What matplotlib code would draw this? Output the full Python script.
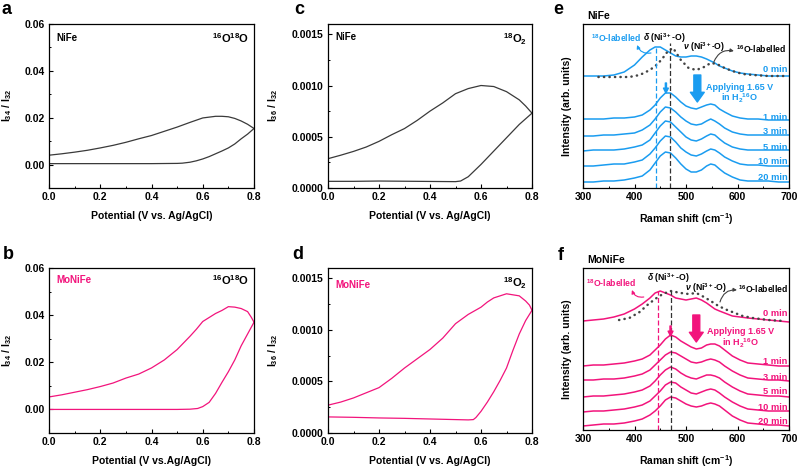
import matplotlib
matplotlib.use("Agg")
import matplotlib.pyplot as plt
from matplotlib.ticker import MultipleLocator, FormatStrFormatter

plt.rcParams['font.family'] = ['Liberation Sans', 'DejaVu Sans']
plt.rcParams['font.weight'] = 'bold'
plt.rcParams['axes.labelweight'] = 'bold'
plt.rcParams['mathtext.fontset'] = 'custom'
plt.rcParams['mathtext.rm'] = 'Liberation Sans:bold'
plt.rcParams['mathtext.bf'] = 'Liberation Sans:bold'
plt.rcParams['mathtext.it'] = 'Liberation Sans:italic:bold'
plt.rcParams['mathtext.sf'] = 'Liberation Sans:bold'

BLUE = '#1a9cf0'
PINK = '#f2147c'
GRAY = '#3a3a3a'

# ---- DEMS data (potential V vs Ag/AgCl) ----
a_fwd_x = [0.0, 0.1, 0.2, 0.3, 0.4, 0.5, 0.52, 0.55, 0.575, 0.6, 0.625, 0.65, 0.675, 0.7, 0.725, 0.75, 0.775, 0.8]
a_fwd_y = [0.0004, 0.0004, 0.0004, 0.0004, 0.0004, 0.0005, 0.0006, 0.001, 0.0016, 0.0024, 0.0034, 0.0046, 0.0058, 0.0071, 0.0088, 0.011, 0.013, 0.0154]
a_rev_x = [0.8, 0.775, 0.75, 0.725, 0.7, 0.675, 0.65, 0.6, 0.55, 0.5, 0.45, 0.4, 0.35, 0.3, 0.25, 0.2, 0.15, 0.1, 0.05, 0.0]
a_rev_y = [0.0154, 0.0172, 0.0186, 0.0197, 0.0204, 0.0206, 0.0206, 0.0199, 0.018, 0.016, 0.0142, 0.0124, 0.011, 0.0095, 0.0082, 0.0071, 0.0061, 0.0053, 0.0046, 0.004]

b_fwd_x = [0.0, 0.1, 0.2, 0.3, 0.4, 0.5, 0.55, 0.58, 0.6, 0.625, 0.65, 0.675, 0.7, 0.725, 0.75, 0.775, 0.8]
b_fwd_y = [0.0, 0.0, 0.0, 0.0, 0.0, 0.0, 0.0001, 0.0004, 0.0012, 0.003, 0.0068, 0.0115, 0.016, 0.021, 0.027, 0.032, 0.037]
b_rev_x = [0.8, 0.79, 0.775, 0.75, 0.725, 0.7, 0.675, 0.65, 0.625, 0.6, 0.575, 0.55, 0.5, 0.45, 0.4, 0.35, 0.3, 0.25, 0.2, 0.15, 0.1, 0.05, 0.0]
b_rev_y = [0.037, 0.039, 0.0415, 0.0428, 0.0434, 0.0436, 0.042, 0.0407, 0.039, 0.0373, 0.034, 0.031, 0.0254, 0.021, 0.0176, 0.015, 0.0133, 0.0112, 0.0097, 0.0084, 0.0073, 0.0062, 0.0053]

c_fwd_x = [0.0, 0.1, 0.2, 0.3, 0.4, 0.5, 0.52, 0.55, 0.6, 0.65, 0.7, 0.75, 0.8]
c_fwd_y = [0.000065, 0.000065, 0.000068, 0.000066, 0.000064, 0.000062, 0.000068, 0.00011, 0.00023, 0.00036, 0.00049, 0.00062, 0.00073]
c_rev_x = [0.8, 0.775, 0.75, 0.7, 0.65, 0.6, 0.55, 0.5, 0.45, 0.4, 0.35, 0.3, 0.25, 0.2, 0.15, 0.1, 0.05, 0.0]
c_rev_y = [0.00073, 0.0008, 0.00086, 0.00094, 0.00099, 0.001, 0.00097, 0.00092, 0.00083, 0.00075, 0.00066, 0.00058, 0.00052, 0.000455, 0.0004, 0.000357, 0.00032, 0.000286]

d_fwd_x = [0.0, 0.1, 0.2, 0.3, 0.4, 0.5, 0.55, 0.57, 0.58, 0.6, 0.625, 0.65, 0.675, 0.7, 0.725, 0.75, 0.775, 0.8]
d_fwd_y = [0.000156, 0.000152, 0.000146, 0.000142, 0.000136, 0.00013, 0.000127, 0.00013, 0.00015, 0.00021, 0.0003, 0.0004, 0.00051, 0.00063, 0.0008, 0.00096, 0.00109, 0.00119]
d_rev_x = [0.8, 0.79, 0.775, 0.75, 0.725, 0.7, 0.675, 0.65, 0.625, 0.6, 0.55, 0.5, 0.45, 0.4, 0.35, 0.3, 0.25, 0.2, 0.15, 0.1, 0.05, 0.0]
d_rev_y = [0.00119, 0.00124, 0.00128, 0.00133, 0.00134, 0.00135, 0.00133, 0.00131, 0.00127, 0.00122, 0.00115, 0.00106, 0.00092, 0.00081, 0.00072, 0.00063, 0.00053, 0.00044, 0.00039, 0.00034, 0.0003, 0.00027]

# ---- Raman data (arb. units) ----
raman_x = [300, 320, 340, 360, 380, 400, 415, 430, 440, 450, 460, 470, 480, 490, 500,
           510, 520, 530, 540, 548, 556, 565, 575, 590, 605, 620, 640, 660, 680, 700]
times = ['1 min', '3 min', '5 min', '10 min', '20 min']

e_0min = [112, 112, 112, 113, 116, 123, 131, 138, 141, 141, 138, 135, 132, 131, 131,
          132, 132, 131, 129, 127, 125, 122, 120, 117, 115, 114, 113, 112, 112, 112]
e_dot_x = [330, 360, 390, 410, 430, 445, 455, 465, 475, 490, 505, 520, 535, 548, 560, 575, 590, 610, 630, 660, 690]
e_dot_y = [111, 111, 111, 113, 118, 124, 130, 137, 140, 128, 120, 118, 121, 125, 124, 120, 117, 114, 113, 112, 112]
e_offsets = [68, 52, 37, 22, 6]
e_spectra = [
    [1, 1, 1, 2, 2, 3, 5, 10, 15, 22, 27, 27, 23, 18, 14, 12, 11, 13, 15, 16, 15, 11, 8, 4, 2, 1, 1, 0, 0, 0],
    [0, 0, 1, 1, 2, 3, 6, 11, 17, 24, 29, 28, 24, 19, 15, 12, 11, 12, 15, 17, 15, 12, 8, 4, 2, 1, 1, 1, 1, 1],
    [0, 1, 1, 1, 2, 4, 6, 11, 18, 25, 30, 29, 24, 19, 14, 11, 10, 12, 15, 17, 16, 12, 8, 4, 2, 1, 1, 1, 1, 1],
    [0, 0, 1, 2, 2, 4, 6, 12, 18, 25, 30, 29, 24, 18, 14, 11, 10, 12, 15, 17, 16, 13, 9, 5, 2, 1, 1, 0, 0, 0],
    [0, 0, 1, 1, 2, 4, 6, 12, 19, 26, 30, 29, 24, 18, 13, 10, 10, 12, 16, 18, 17, 13, 9, 5, 2, 1, 1, 1, 0, 0],
]

f_0min = [109, 110, 111, 113, 116, 121, 126, 132, 137, 139, 137, 135, 132, 131, 130,
          131, 132, 130, 127, 124, 121, 119, 117, 114, 113, 112, 111, 110, 109, 108]
f_dot_x = [370, 390, 410, 425, 440, 455, 470, 490, 505, 520, 535, 548, 560, 575, 590, 610, 630, 660, 690]
f_dot_y = [110, 112, 118, 125, 131, 136, 139, 137, 136, 137, 133, 129, 125, 121, 118, 114, 112, 110, 109]
f_offsets = [64, 49, 33, 18, 4]
f_spectra = [
    [0, 1, 1, 2, 3, 5, 7, 11, 16, 21, 27, 31, 29, 25, 22, 19, 17, 18, 21, 22, 22, 20, 16, 10, 6, 3, 2, 1, 0, 0],
    [1, 1, 2, 2, 3, 5, 7, 11, 16, 21, 26, 29, 28, 25, 22, 19, 18, 19, 21, 22, 21, 19, 15, 10, 6, 3, 2, 1, 1, 0],
    [0, 1, 1, 2, 3, 5, 7, 11, 16, 22, 27, 30, 28, 24, 21, 19, 18, 20, 22, 22, 21, 19, 15, 10, 6, 3, 2, 1, 1, 0],
    [0, 1, 1, 2, 3, 5, 7, 11, 16, 21, 27, 30, 29, 25, 22, 19, 18, 20, 22, 23, 22, 19, 15, 10, 6, 3, 2, 1, 1, 1],
    [0, 1, 2, 2, 3, 5, 7, 11, 15, 20, 26, 29, 28, 25, 22, 20, 19, 20, 22, 23, 22, 20, 16, 10, 6, 3, 2, 1, 1, 0],
]

W, H = 798, 470
fig = plt.figure(figsize=(W / 100, H / 100), dpi=100)


def add_ax(left, top, right, bottom):
    return fig.add_axes([left / W, 1 - bottom / H, (right - left) / W, (bottom - top) / H])


def style_ax(ax):
    for s in ax.spines.values():
        s.set_linewidth(0.9)
    ax.tick_params(direction='in', labelsize=7.5, width=0.8, length=3, pad=3)
    ax.tick_params(which='minor', direction='in', width=0.7, length=1.6)


def cv_panel(ax, fx, fy, rx, ry, color, ylim, ymaj, ymin, yfmt, ylabel, name, name_col,
             species, name_y, sp_y, xlabel, ylab_x):
    ax.plot(fx, fy, color=color, lw=0.9)
    ax.plot(rx, ry, color=color, lw=0.9)
    ax.set_xlim(0, 0.8)
    ax.set_ylim(*ylim)
    ax.xaxis.set_major_locator(MultipleLocator(0.2))
    ax.xaxis.set_minor_locator(MultipleLocator(0.1))
    ax.xaxis.set_major_formatter(FormatStrFormatter('%.1f'))
    ax.yaxis.set_major_locator(MultipleLocator(ymaj))
    ax.yaxis.set_minor_locator(MultipleLocator(ymin))
    ax.yaxis.set_major_formatter(FormatStrFormatter(yfmt))
    style_ax(ax)
    ax.set_xlabel(xlabel, fontsize=7.5, labelpad=6.5)
    ax.set_ylabel(ylabel, fontsize=7.5)
    ax.yaxis.set_label_coords(ylab_x, 0.5)
    ax.text(0.035, name_y, name, transform=ax.transAxes, color=name_col,
            fontsize=7, ha='left', va='center')
    ax.text(0.975, sp_y, species, transform=ax.transAxes, color='black',
            fontsize=8, ha='right', va='center')


ax_a = add_ax(49, 24, 254, 188)
cv_panel(ax_a, a_fwd_x, a_fwd_y, a_rev_x, a_rev_y, GRAY, (-0.01, 0.06), 0.02, 0.01, '%.2f',
         r'I$_{34}$ / I$_{32}$', 'NiFe', 'black', r'$^{16}$O$^{18}$O', 0.915, 0.915,
         'Potential (V vs. Ag/AgCl)', -0.172)

ax_b = add_ax(49, 268, 254, 433)
cv_panel(ax_b, b_fwd_x, b_fwd_y, b_rev_x, b_rev_y, PINK, (-0.01, 0.06), 0.02, 0.01, '%.2f',
         r'I$_{34}$ / I$_{32}$', 'MoNiFe', PINK, r'$^{16}$O$^{18}$O', 0.925, 0.925,
         'Potential (V vs.Ag/AgCl)', -0.172)

ax_c = add_ax(328, 24, 532, 188)
cv_panel(ax_c, c_fwd_x, c_fwd_y, c_rev_x, c_rev_y, GRAY, (0, 0.0016), 0.0005, 0.00025, '%.4f',
         r'I$_{36}$ / I$_{32}$', 'NiFe', 'black', r'$^{18}$O$_2$', 0.92, 0.91,
         'Potential (V vs. Ag/AgCl)', -0.235)

ax_d = add_ax(328, 268, 532, 433)
cv_panel(ax_d, d_fwd_x, d_fwd_y, d_rev_x, d_rev_y, PINK, (0, 0.0016), 0.0005, 0.00025, '%.4f',
         r'I$_{36}$ / I$_{32}$', 'MoNiFe', PINK, r'$^{18}$O$_2$', 0.895, 0.905,
         'Potential (V vs. Ag/AgCl)', -0.235)


def raman_panel(ax, color, solid0, dot_x, dot_y, offsets, spectra, ytop, sample,
                lab18, arr18, delta_pos, nu_pos, lab16, arr16, label0_y, apply_pos,
                min_y, dash_col_x, dash_blk_x, dash_top, small_arrow, big_arrow):
    fs = 6.2
    ax.plot(raman_x, solid0, color=color, lw=1.1)
    ax.plot(dot_x, dot_y, color='#444444', lw=1.8, ls=(0, (0.1, 2.1)), dash_capstyle='round')
    for off, spec in zip(offsets, spectra):
        ax.plot(raman_x, [v + off for v in spec], color=color, lw=1.1)
    ax.plot([dash_col_x, dash_col_x], [0, dash_top[0]], color=color, lw=0.9, ls=(0, (4, 2)))
    ax.plot([dash_blk_x, dash_blk_x], [0, dash_top[1]], color='#333333', lw=0.9, ls=(0, (4, 2)))
    ax.set_xlim(300, 700)
    ax.set_ylim(0, ytop)
    ax.set_yticks([])
    ax.xaxis.set_major_locator(MultipleLocator(100))
    ax.xaxis.set_minor_locator(MultipleLocator(50))
    style_ax(ax)
    ax.set_xlabel(r'Raman shift (cm$^{-1}$)', fontsize=7.5, labelpad=6.5)
    ax.set_ylabel('Intensity (arb. units)', fontsize=7.5)
    ax.yaxis.set_label_coords(-0.055, 0.5)
    ax.text(0.02, 1.05, sample, transform=ax.transAxes, fontsize=7.5, ha='left', va='center')

    ax.text(lab18[0], lab18[1], r'$^{18}$O-labelled', color=color, fontsize=fs, ha='center', va='center')
    ax.annotate('', xy=arr18[0], xytext=arr18[1],
                arrowprops=dict(arrowstyle='-|>', color=color, lw=0.8, mutation_scale=5,
                                shrinkA=0, shrinkB=0, connectionstyle='arc3,rad=-0.4'))
    ax.text(delta_pos[0], delta_pos[1], r'$\delta$ (Ni$^{3+}$-O)', fontsize=fs, ha='center', va='center')
    ax.text(nu_pos[0], nu_pos[1], r'$\nu$ (Ni$^{3+}$-O)', fontsize=fs, ha='center', va='center')
    ax.text(lab16[0], lab16[1], r'$^{16}$O-labelled', fontsize=fs, ha='center', va='center')
    ax.annotate('', xy=arr16[0], xytext=arr16[1],
                arrowprops=dict(arrowstyle='-|>', color='#404040', lw=0.8, mutation_scale=5,
                                shrinkA=0, shrinkB=0, connectionstyle='arc3,rad=-0.4'))
    ax.text(697, label0_y, '0 min', color=color, fontsize=fs + 0.5, ha='right', va='center')
    ax.text(apply_pos[0], apply_pos[1] + 1, 'Applying 1.65 V', color=color, fontsize=fs + 0.3,
            ha='center', va='center')
    ax.text(apply_pos[0], apply_pos[1] - 10.5, r'in H$_2$$^{16}$O', color=color, fontsize=fs + 0.3,
            ha='center', va='center')
    for t, yy in zip(times, min_y):
        ax.text(697, yy, t, color=color, fontsize=fs + 0.5, ha='right', va='center')
    ax.annotate('', xy=(small_arrow[0], small_arrow[2]), xytext=(small_arrow[0], small_arrow[1]),
                arrowprops=dict(arrowstyle='simple,head_length=3.5,head_width=3.5,tail_width=0.8',
                                color=color, mutation_scale=1, shrinkA=0, shrinkB=0))
    ax.annotate('', xy=(big_arrow[0], big_arrow[2]), xytext=(big_arrow[0], big_arrow[1]),
                arrowprops=dict(arrowstyle='simple,head_length=7,head_width=10,tail_width=5',
                                color=color, mutation_scale=1, shrinkA=0, shrinkB=0))


ax_e = add_ax(583, 24, 789, 188)
raman_panel(ax_e, BLUE, e_0min, e_dot_x, e_dot_y, e_offsets, e_spectra, 164, 'NiFe',
            (364, 150), ((405, 143), (432, 135)), (458, 150), (536, 141), (645, 139),
            ((593, 137), (554, 126)), 119, (604, 100), [71, 56, 41, 26, 11],
            441, 469, (141, 145), (461, 105, 95), (522, 113, 86))

ax_f = add_ax(583, 268, 789, 430)
raman_panel(ax_f, PINK, f_0min, f_dot_x, f_dot_y, f_offsets, f_spectra, 162, 'MoNiFe',
            (354, 147), ((395, 140), (418, 133)), (465, 152), (539, 142), (650, 141),
            ((599, 140), (566, 128)), 117, (605, 97), [68, 53, 38, 23, 8],
            446, 470, (139, 139), (470, 104, 94), (520, 115, 88))

for lab, x, y in [('a', 6, 0.5), ('c', 299, 0.5), ('e', 558, 0.5), ('b', 8, 246), ('d', 298, 246), ('f', 561, 247)]:
    fig.text(x / W, 1 - y / H, lab, fontsize=13, ha='center', va='top')

fig.savefig('out.png', dpi=100)
